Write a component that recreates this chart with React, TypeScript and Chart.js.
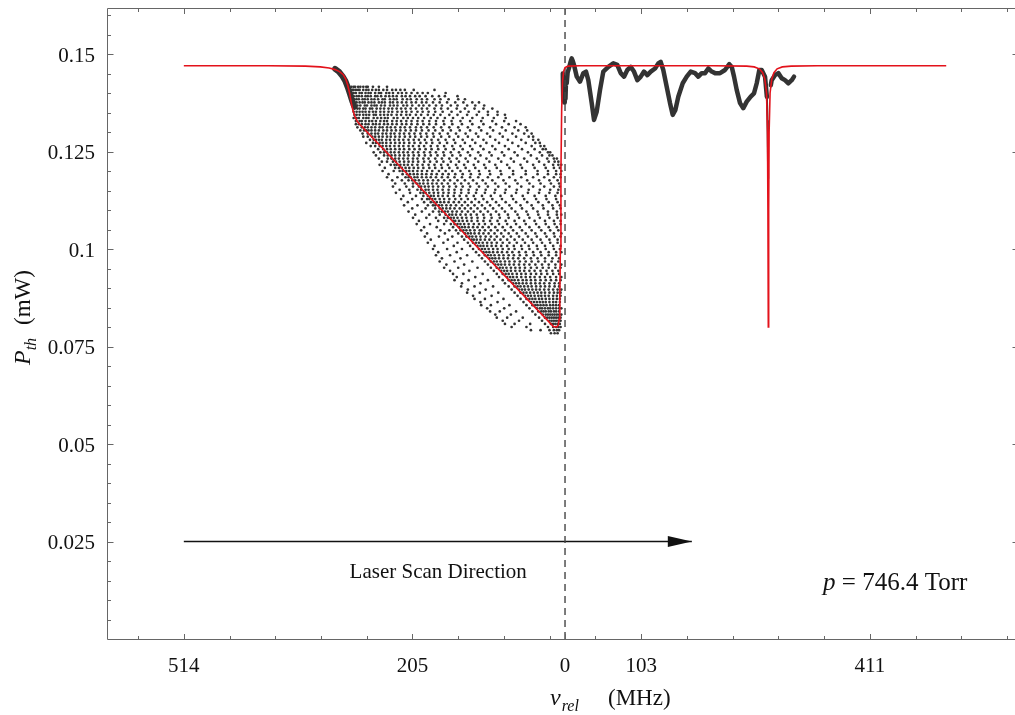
import React, { useEffect, useRef } from "react";
import { Chart, registerables } from "chart.js";

Chart.register(...registerables);

// ---------- axis ranges & ticks ----------
const xRange = [-617.6, 610.8];
const yRange = [0, 0.1618];

const xMajorTicks = [-514, -205.7, 0, 102.7, 411];
const xMajorLabels = ["514", "205", "0", "103", "411"];
const xMinorTicks = [
  -575.7, -452.3, -390.7, -329, -267.3, -144, -82.3, -20.7, 41, 164.3, 226,
  287.7, 349.3, 472.7, 534.3, 596,
];
const yMajorTicks = [0.025, 0.05, 0.075, 0.1, 0.125, 0.15];
const yMajorLabels = ["0.025", "0.05", "0.075", "0.1", "0.125", "0.15"];
const yMinorTicks = [
  0.005, 0.01, 0.015, 0.02, 0.03, 0.035, 0.04, 0.045, 0.055, 0.06, 0.065, 0.07,
  0.08, 0.085, 0.09, 0.095, 0.105, 0.11, 0.115, 0.12, 0.13, 0.135, 0.14, 0.145,
  0.155, 0.16,
];

// ---------- red fit curve ----------
const fitX = [
  -514, -400, -350, -330, -318, -310, -304, -299, -295.5, -293, -290.5, -288.5,
  -286, -283, -280, -276, -20, -15.5, -11, -9, -8, -7, -6.3, -5.5, -4.5, -3.3,
  -2, 0, 4, 20, 200, 245, 255, 262, 266.5, 269.5, 271.7, 273, 273.6, 274.1,
  274.6, 275.2, 276.5, 278.7, 281.7, 286, 293, 305, 340, 514,
];
const fitY = [
  0.147, 0.147, 0.1469, 0.1467, 0.1464, 0.146, 0.1455, 0.1447, 0.1435, 0.142,
  0.14, 0.1378, 0.1355, 0.1338, 0.1327, 0.1318, 0.081, 0.0801, 0.08, 0.0805,
  0.082, 0.088, 0.1, 0.12, 0.136, 0.143, 0.1455, 0.1465, 0.1469, 0.147, 0.147,
  0.1469, 0.1467, 0.1462, 0.1452, 0.1435, 0.14, 0.13, 0.11, 0.08, 0.11, 0.13,
  0.14, 0.1435, 0.1452, 0.1462, 0.1467, 0.1469, 0.147, 0.147,
];

// ---------- black measured data ----------
const hookX = [-310, -305, -300, -296, -293, -290, -287, -284];
const hookY = [0.1462, 0.1455, 0.1443, 0.143, 0.1415, 0.1398, 0.138, 0.1365];

const traceX = [
  -3.0, -2.4, -1.8, -1.0, -0.4, 0.6, 1.5, 2.3, 3.5, 5.8, 7.5, 9.0, 10.5, 12.1,
  15.8, 20.2, 24.7, 28.3, 31.4, 36.0, 39.1, 42.7, 47.2, 51.6, 58.4, 65.1, 70.5,
  75.1, 79.6, 84.0, 88.6, 93.0, 97.5, 102.1, 106.5, 111.0, 115.6, 121.4, 125.8,
  129.0, 132.5, 137.1, 141.6, 145.2, 148.7, 152.8, 158.7, 164.1, 169.5, 175.3,
  179.7, 184.3, 188.8, 193.2, 197.8, 202.3, 209.0, 215.7, 221.5, 224.8, 227.9,
  231.5, 236.0, 240.4, 245.0, 250.4, 254.8, 258.5, 262.0, 265.2, 269.7, 272.2,
];
const traceY = [
  0.145, 0.138, 0.1428, 0.1376, 0.1418, 0.1385, 0.144, 0.1425, 0.1452, 0.1467,
  0.148, 0.1489, 0.1482, 0.1472, 0.1442, 0.1429, 0.1451, 0.1455, 0.1433, 0.1374,
  0.1331, 0.1352, 0.1408, 0.1455, 0.1467, 0.1476, 0.1472, 0.1451, 0.1442,
  0.1459, 0.1467, 0.1455, 0.1433, 0.1442, 0.1455, 0.1446, 0.1455, 0.1463,
  0.1476, 0.148, 0.1459, 0.1416, 0.1374, 0.1344, 0.1356, 0.1391, 0.1425, 0.1442,
  0.1455, 0.1451, 0.1442, 0.1451, 0.1451, 0.1463, 0.1455, 0.1451, 0.1451,
  0.1459, 0.1474, 0.1467, 0.1442, 0.1408, 0.1374, 0.1361, 0.1378, 0.1391,
  0.1399, 0.1425, 0.1459, 0.1459, 0.1442, 0.139,
];
const dipTraceX = [272.2, 273.0, 273.5, 273.9];
const dipTraceY = [0.139, 0.133, 0.126, 0.118];
const tailTraceX = [277.5, 278.7, 283.2, 287.6, 292.2, 296.6, 301.1, 305.7, 308.8];
const tailTraceY = [0.142, 0.1433, 0.1446, 0.1451, 0.1438, 0.1433, 0.1425, 0.1433, 0.1442];

// scattered cloud: rows of (power level, frequencies of the dots at that level)
const cloudRows: [number, number[]][] = [
  [0.1416, [-288,-285,-283,-279,-276,-272,-268,-266,-259,-251,-240]],
  [0.1408, [-287,-285,-282,-279,-277,-272,-268,-265,-260,-255,-251,-245,-240,-233,-228,-222,-216,-204,-176]],
  [0.1400, [-288,-285,-282,-277,-274,-269,-265,-262,-256,-251,-248,-241,-237,-232,-225,-220,-214,-207,-199,-192,-185,-161]],
  [0.1392, [-285,-281,-278,-274,-269,-266,-262,-256,-253,-248,-242,-237,-232,-227,-220,-215,-209,-202,-196,-188,-179,-170,-162,-145]],
  [0.1384, [-288,-284,-281,-278,-273,-270,-266,-261,-257,-252,-246,-243,-236,-231,-227,-219,-213,-208,-200,-193,-186,-176,-168,-157,-144,-135]],
  [0.1376, [-284,-281,-277,-273,-270,-265,-261,-257,-251,-247,-243,-236,-232,-226,-220,-214,-207,-201,-193,-187,-178,-169,-159,-148,-137,-125,-116]],
  [0.1368, [-287,-284,-280,-276,-270,-267,-261,-257,-254,-248,-243,-236,-231,-226,-218,-213,-206,-197,-191,-183,-174,-166,-154,-145,-132,-121,-109]],
  [0.1360, [-284,-280,-277,-272,-269,-263,-260,-254,-249,-244,-238,-233,-227,-221,-215,-208,-201,-193,-186,-176,-167,-158,-146,-135,-122,-110,-98]],
  [0.1352, [-285,-281,-277,-273,-269,-264,-259,-255,-249,-244,-238,-233,-226,-220,-214,-207,-199,-192,-184,-175,-165,-153,-141,-130,-116,-104,-91]],
  [0.1344, [-284,-281,-277,-272,-268,-264,-258,-255,-249,-244,-239,-234,-227,-221,-214,-209,-201,-194,-185,-177,-168,-156,-145,-132,-119,-104,-91,-81]],
  [0.1336, [-285,-281,-278,-272,-268,-265,-258,-253,-248,-243,-239,-231,-226,-218,-212,-205,-198,-190,-181,-172,-162,-151,-138,-125,-111,-96,-80]],
  [0.1328, [-282,-277,-274,-269,-264,-260,-255,-249,-244,-240,-233,-227,-221,-214,-207,-199,-192,-183,-174,-164,-153,-141,-128,-113,-98,-82,-66]],
  [0.1320, [-282,-278,-274,-269,-265,-259,-255,-250,-244,-239,-233,-227,-220,-214,-207,-199,-191,-183,-174,-163,-152,-139,-125,-110,-93,-76,-60]],
  [0.1312, [-280,-274,-270,-266,-261,-256,-250,-246,-240,-235,-229,-222,-216,-209,-201,-194,-186,-177,-167,-156,-144,-131,-116,-101,-85,-68,-53]],
  [0.1304, [-276,-271,-268,-265,-261,-256,-251,-245,-240,-234,-228,-222,-215,-208,-201,-193,-184,-175,-165,-154,-142,-128,-113,-97,-80,-63,-51]],
  [0.1296, [-273,-266,-261,-256,-252,-246,-241,-235,-230,-223,-217,-210,-203,-195,-187,-178,-169,-158,-147,-134,-120,-105,-88,-71,-55,-45]],
  [0.1288, [-272,-266,-260,-256,-251,-246,-240,-235,-229,-223,-216,-209,-202,-194,-186,-177,-167,-156,-144,-131,-117,-101,-84,-66,-49,-43]],
  [0.1280, [-263,-258,-255,-251,-247,-241,-236,-230,-224,-218,-211,-204,-197,-189,-180,-171,-161,-150,-138,-125,-110,-94,-77,-59,-43,-36]],
  [0.1272, [-268,-259,-255,-250,-246,-241,-235,-229,-223,-217,-210,-203,-195,-187,-179,-169,-159,-148,-135,-121,-106,-89,-71,-53,-40,-34]],
  [0.1264, [-262,-256,-250,-246,-241,-236,-230,-224,-218,-211,-205,-197,-190,-181,-172,-163,-152,-141,-128,-114,-98,-81,-63,-45,-33,-28]],
  [0.1256, [-252,-245,-240,-235,-229,-223,-217,-210,-203,-196,-188,-180,-171,-161,-150,-138,-125,-110,-94,-76,-58,-41,-30,-26]],
  [0.1248, [-258,-249,-244,-240,-235,-230,-224,-218,-212,-205,-198,-190,-182,-174,-164,-154,-143,-131,-117,-102,-85,-68,-50,-34,-23,-20]],
  [0.1240, [-255,-244,-239,-234,-229,-223,-217,-211,-204,-197,-189,-181,-172,-163,-152,-141,-128,-114,-99,-82,-64,-46,-31,-21,-17]],
  [0.1232, [-251,-239,-234,-229,-224,-218,-212,-205,-199,-191,-184,-175,-166,-156,-146,-134,-121,-106,-90,-73,-55,-38,-24,-15,-11]],
  [0.1224, [-247,-240,-232,-228,-223,-217,-211,-205,-198,-190,-182,-173,-164,-154,-143,-131,-117,-102,-86,-69,-51,-35,-22,-14,-9]],
  [0.1216, [-250,-235,-230,-227,-222,-217,-212,-206,-199,-192,-184,-176,-167,-158,-147,-136,-123,-109,-94,-78,-60,-43,-28,-16,-9,-5]],
  [0.1208, [-243,-229,-224,-220,-215,-210,-204,-198,-191,-183,-175,-166,-156,-145,-134,-121,-107,-92,-75,-58,-41,-26,-15,-7]],
  [0.1200, [-246,-231,-223,-219,-214,-210,-205,-199,-193,-186,-179,-170,-161,-152,-141,-129,-116,-102,-87,-70,-53,-37,-23,-12,-5]],
  [0.1192, [-238,-219,-213,-209,-204,-199,-193,-187,-180,-173,-165,-157,-148,-138,-127,-115,-101,-86,-70,-53,-37,-23,-12,-6]],
  [0.1184, [-240,-226,-215,-211,-208,-203,-199,-193,-187,-181,-174,-166,-158,-149,-139,-128,-117,-104,-90,-75,-59,-43,-28,-15,-6]],
  [0.1176, [-233,-220,-211,-206,-202,-197,-191,-185,-178,-171,-163,-155,-145,-135,-124,-111,-98,-83,-67,-51,-35,-21,-10]],
  [0.1168, [-229,-216,-205,-200,-196,-191,-185,-179,-173,-166,-158,-149,-140,-130,-119,-107,-94,-80,-64,-48,-33,-19,-8]],
  [0.1160, [-232,-214,-205,-197,-194,-189,-184,-178,-171,-164,-156,-147,-138,-128,-116,-104,-90,-75,-59,-43,-28,-15,-7]],
  [0.1152, [-223,-210,-199,-194,-188,-184,-178,-172,-165,-157,-149,-140,-130,-119,-107,-94,-80,-65,-49,-34,-20,-9]],
  [0.1144, [-228,-209,-195,-191,-188,-183,-177,-171,-164,-157,-149,-140,-130,-120,-108,-95,-81,-66,-50,-35,-21,-10]],
  [0.1136, [-218,-201,-191,-185,-181,-177,-171,-165,-158,-150,-142,-133,-123,-112,-100,-87,-72,-57,-41,-26,-13,-5]],
  [0.1128, [-221,-206,-193,-186,-183,-179,-175,-169,-163,-156,-148,-140,-131,-121,-110,-98,-85,-70,-55,-39,-25,-12]],
  [0.1120, [-212,-190,-181,-177,-173,-168,-163,-157,-150,-143,-135,-126,-116,-105,-93,-80,-66,-51,-36,-22,-10]],
  [0.1112, [-217,-199,-185,-178,-175,-170,-166,-160,-154,-147,-139,-131,-122,-112,-101,-89,-75,-60,-45,-30,-17,-7]],
  [0.1104, [-206,-188,-175,-169,-165,-160,-155,-149,-142,-135,-127,-118,-108,-97,-85,-72,-58,-43,-29,-16,-6]],
  [0.1096, [-211,-193,-178,-170,-166,-162,-158,-152,-146,-139,-131,-123,-114,-104,-93,-81,-67,-52,-37,-23,-11]],
  [0.1088, [-202,-183,-169,-161,-156,-152,-147,-141,-134,-127,-119,-110,-100,-89,-77,-64,-50,-36,-23,-11,-5]],
  [0.1080, [-205,-187,-174,-163,-158,-154,-150,-145,-139,-133,-126,-118,-109,-99,-88,-76,-62,-48,-34,-21,-10]],
  [0.1072, [-197,-171,-160,-151,-148,-143,-138,-132,-126,-118,-110,-101,-91,-80,-68,-55,-41,-27,-15,-6]],
  [0.1064, [-200,-182,-163,-154,-149,-145,-141,-136,-130,-123,-116,-108,-99,-89,-78,-66,-53,-39,-26,-14,-6]],
  [0.1056, [-190,-173,-151,-143,-139,-135,-130,-124,-118,-111,-103,-94,-84,-73,-61,-48,-35,-22,-11]],
  [0.1048, [-194,-168,-156,-147,-141,-137,-133,-128,-122,-115,-108,-100,-91,-81,-70,-58,-45,-32,-20,-9]],
  [0.1040, [-186,-162,-144,-135,-131,-127,-122,-116,-110,-103,-95,-86,-76,-65,-53,-40,-27,-15,-5]],
  [0.1032, [-189,-170,-152,-139,-133,-129,-125,-120,-114,-107,-100,-92,-83,-73,-62,-50,-38,-25,-14,-6]],
  [0.1024, [-181,-158,-136,-126,-123,-119,-114,-108,-102,-95,-87,-78,-68,-57,-45,-33,-21,-10]],
  [0.1016, [-185,-164,-145,-131,-124,-120,-116,-111,-105,-99,-92,-84,-75,-65,-54,-43,-31,-20,-10]],
  [0.1008, [-176,-150,-128,-118,-114,-110,-105,-99,-93,-86,-78,-69,-59,-49,-38,-27,-16,-6]],
  [0.1000, [-178,-159,-139,-124,-116,-112,-108,-103,-97,-91,-84,-76,-68,-58,-48,-37,-26,-15,-7]],
  [0.0992, [-171,-146,-120,-110,-106,-102,-97,-91,-85,-78,-71,-62,-53,-43,-33,-22,-12,-5]],
  [0.0984, [-174,-155,-132,-116,-108,-104,-100,-95,-89,-83,-76,-69,-61,-52,-42,-32,-22,-12]],
  [0.0976, [-166,-141,-112,-102,-98,-94,-89,-83,-77,-70,-63,-55,-46,-37,-27,-17,-8]],
  [0.0968, [-169,-149,-125,-108,-100,-96,-92,-87,-81,-75,-68,-61,-53,-45,-36,-27,-18,-9]],
  [0.0960, [-160,-136,-104,-94,-90,-86,-81,-75,-69,-62,-55,-48,-40,-31,-22,-13,-5]],
  [0.0952, [-163,-144,-118,-100,-92,-88,-84,-79,-73,-67,-61,-54,-46,-38,-30,-22,-13,-6]],
  [0.0944, [-155,-129,-96,-86,-82,-78,-73,-67,-61,-55,-48,-41,-33,-25,-17,-9]],
  [0.0936, [-151,-137,-111,-92,-84,-80,-76,-71,-65,-59,-53,-46,-39,-32,-24,-16,-8]],
  [0.0928, [-146,-121,-89,-78,-74,-70,-65,-59,-53,-47,-41,-34,-27,-20,-12,-5]],
  [0.0920, [-149,-130,-104,-84,-76,-72,-68,-63,-57,-52,-46,-40,-33,-26,-19,-12,-6]],
  [0.0912, [-139,-114,-81,-70,-66,-62,-57,-52,-46,-40,-34,-28,-21,-14,-8]],
  [0.0904, [-140,-122,-97,-76,-68,-64,-60,-55,-50,-45,-39,-33,-27,-21,-14,-8]],
  [0.0896, [-131,-107,-72,-62,-58,-54,-49,-44,-39,-34,-28,-22,-16,-10,-5]],
  [0.0888, [-132,-115,-90,-68,-60,-56,-52,-47,-42,-37,-32,-27,-21,-15,-10,-6]],
  [0.0880, [-124,-99,-64,-54,-50,-46,-41,-36,-32,-27,-22,-16,-11,-6]],
  [0.0872, [-122,-108,-83,-60,-52,-48,-44,-40,-35,-31,-26,-21,-16,-11,-7]],
  [0.0864, [-114,-91,-56,-46,-42,-38,-34,-30,-26,-21,-16,-12,-7]],
  [0.0856, [-113,-100,-75,-52,-44,-40,-37,-33,-29,-25,-20,-16,-12,-8]],
  [0.0848, [-105,-82,-48,-38,-34,-31,-27,-23,-20,-16,-12,-8,-5]],
  [0.0840, [-101,-88,-66,-44,-36,-32,-29,-26,-22,-19,-15,-12,-8]],
  [0.0832, [-94,-73,-40,-30,-26,-23,-20,-17,-14,-11,-8,-5]],
  [0.0824, [-92,-78,-57,-35,-27,-24,-21,-18,-15,-12,-9,-6]],
  [0.0816, [-84,-62,-31,-21,-18,-15,-12,-9,-6]],
  [0.0808, [-81,-68,-47,-27,-19,-16,-13,-10,-7]],
  [0.0800, [-72,-52,-23,-16,-12,-9,-6]],
  [0.0792, [-46,-33,-21,-15,-11,-8]],
  [0.0784, [-19,-14,-10]],
];

// ---------- annotations ----------
const scanArrowX = [-514, 171];
const scanArrowY = 0.025;
const scanLabel = "Laser Scan Direction";
const scanLabelPos = [-171, 0.0156];
const pressureLabel = ["p", " = 746.4 Torr"];
const pressureLabelPos = [348, 0.0126];
const zeroLineX = 0;

const SERIF = "'Liberation Serif', 'Times New Roman', serif";
const zip = (xs: number[], ys: number[]) => xs.map((x, i) => ({ x, y: ys[i] }));
const cloudData = cloudRows.flatMap(([y, xs]) => xs.map((x) => ({ x, y })));

const decorPlugin = {
  id: "decor",
  afterDatasetsDraw(chart: any) {
    const { ctx, chartArea: a, scales } = chart;
    const xs = scales.x;
    const ys = scales.y;
    ctx.save();

    // arrow head
    const tipX = xs.getPixelForValue(scanArrowX[1]);
    const tipY = ys.getPixelForValue(scanArrowY);
    ctx.fillStyle = "#111";
    ctx.beginPath();
    ctx.moveTo(tipX, tipY);
    ctx.lineTo(tipX - 24, tipY - 5.5);
    ctx.lineTo(tipX - 24, tipY + 5.5);
    ctx.closePath();
    ctx.fill();

    // frame
    const L = Math.round(a.left) + 0.5;
    const R = Math.round(a.right) + 0.5;
    const T = Math.round(a.top) + 0.5;
    const B = Math.round(a.bottom) + 0.5;
    ctx.strokeStyle = "#666";
    ctx.lineWidth = 1;
    ctx.beginPath();
    ctx.moveTo(L, T);
    ctx.lineTo(R, T);
    ctx.lineTo(R, B);
    ctx.lineTo(L, B);
    ctx.closePath();
    ctx.stroke();

    // ticks
    ctx.beginPath();
    const xTick = (v: number, len: number) => {
      const p = Math.round(xs.getPixelForValue(v)) + 0.5;
      ctx.moveTo(p, B);
      ctx.lineTo(p, B - len);
      ctx.moveTo(p, T);
      ctx.lineTo(p, T + len);
    };
    const yTick = (v: number, len: number) => {
      const p = Math.round(ys.getPixelForValue(v)) + 0.5;
      ctx.moveTo(L, p);
      ctx.lineTo(L + len, p);
      ctx.moveTo(R, p);
      ctx.lineTo(R - len, p);
    };
    xMajorTicks.forEach((v) => xTick(v, 5.5));
    xMinorTicks.forEach((v) => xTick(v, 3.5));
    yMajorTicks.forEach((v) => yTick(v, 6));
    yMinorTicks.forEach((v) => yTick(v, 3.5));
    ctx.stroke();

    // tick labels
    ctx.fillStyle = "#111";
    ctx.font = `21px ${SERIF}`;
    ctx.textBaseline = "alphabetic";
    ctx.textAlign = "center";
    xMajorTicks.forEach((v, i) => {
      ctx.fillText(xMajorLabels[i], xs.getPixelForValue(v), a.bottom + 33);
    });
    ctx.textAlign = "right";
    yMajorTicks.forEach((v, i) => {
      ctx.fillText(yMajorLabels[i], a.left - 12, ys.getPixelForValue(v) + 7.5);
    });

    // x title: nu_rel (MHz)
    ctx.textAlign = "left";
    let x0 = a.left + 443;
    const by = a.bottom + 66;
    ctx.font = `italic 24px ${SERIF}`;
    ctx.fillText("\u03bd", x0, by);
    x0 += ctx.measureText("\u03bd").width + 1;
    ctx.font = `italic 16px ${SERIF}`;
    ctx.fillText("rel", x0, by + 6);
    ctx.font = `23px ${SERIF}`;
    ctx.fillText("(MHz)", a.left + 501, by);

    // y title: P_th (mW)
    ctx.save();
    ctx.translate(a.left - 77, 365);
    ctx.rotate(-Math.PI / 2);
    ctx.font = `italic 24px ${SERIF}`;
    ctx.fillText("P", 0, 0);
    const yx = ctx.measureText("P").width;
    ctx.font = `italic 16px ${SERIF}`;
    ctx.fillText("th", yx, 6);
    ctx.font = `23px ${SERIF}`;
    ctx.fillText("(mW)", 40, 0);
    ctx.restore();

    // annotations
    ctx.font = `21px ${SERIF}`;
    ctx.textAlign = "center";
    ctx.fillText(scanLabel, xs.getPixelForValue(scanLabelPos[0]), ys.getPixelForValue(scanLabelPos[1]));
    ctx.textAlign = "left";
    const px = xs.getPixelForValue(pressureLabelPos[0]);
    const py = ys.getPixelForValue(pressureLabelPos[1]);
    ctx.font = `italic 25px ${SERIF}`;
    ctx.fillText(pressureLabel[0], px, py);
    const pw = ctx.measureText(pressureLabel[0]).width;
    ctx.font = `25px ${SERIF}`;
    ctx.fillText(pressureLabel[1], px + pw, py);

    ctx.restore();
  },
};

export default function App() {
  const ref = useRef<HTMLCanvasElement | null>(null);
  useEffect(() => {
    if (!ref.current) return;
    const dark = "#333333";
    const chart = new Chart(ref.current, {
      type: "scatter",
      data: {
        datasets: [
          {
            data: zip(fitX, fitY),
            showLine: true,
            borderColor: "#e3121b",
            borderWidth: 1.6,
            pointRadius: 0,
            order: 0,
          },
          {
            data: [
              { x: zeroLineX, y: yRange[0] },
              { x: zeroLineX, y: yRange[1] },
            ],
            showLine: true,
            borderColor: "#444",
            borderWidth: 1.4,
            borderDash: [7, 5],
            pointRadius: 0,
            order: 1,
          },
          {
            data: zip(hookX, hookY),
            showLine: true,
            borderColor: dark,
            borderWidth: 6,
            borderCapStyle: "round",
            borderJoinStyle: "round",
            pointRadius: 0,
            order: 3,
          },
          {
            data: zip(traceX, traceY),
            showLine: true,
            borderColor: dark,
            borderWidth: 4.5,
            borderCapStyle: "round",
            borderJoinStyle: "round",
            pointRadius: 0,
            order: 3,
          },
          {
            data: zip(dipTraceX, dipTraceY),
            showLine: true,
            borderColor: dark,
            borderWidth: 2,
            pointRadius: 0,
            order: 3,
          },
          {
            data: zip(tailTraceX, tailTraceY),
            showLine: true,
            borderColor: dark,
            borderWidth: 4.5,
            borderCapStyle: "round",
            borderJoinStyle: "round",
            pointRadius: 0,
            order: 3,
          },
          {
            data: cloudData,
            showLine: false,
            pointRadius: 1.35,
            pointBorderWidth: 0,
            pointBackgroundColor: dark,
            order: 4,
          },
          {
            data: scanArrowX.map((x) => ({ x, y: scanArrowY })),
            showLine: true,
            borderColor: "#111",
            borderWidth: 1.6,
            pointRadius: 0,
            order: 2,
          },
        ],
      },
      options: {
        responsive: false,
        animation: false,
        events: [],
        layout: { padding: { left: 107, right: 22, top: 8, bottom: 76 } },
        plugins: { legend: { display: false }, tooltip: { enabled: false } },
        scales: {
          x: { type: "linear", min: xRange[0], max: xRange[1], display: false },
          y: { type: "linear", min: yRange[0], max: yRange[1], display: false },
        },
      },
      plugins: [decorPlugin],
    });
    return () => chart.destroy();
  }, []);
  return (
    <div style={{ position: "fixed", left: 0, top: 0, width: 1040, height: 715, background: "#fff" }}>
      <canvas ref={ref} width={1040} height={715} style={{ display: "block" }} />
    </div>
  );
}
